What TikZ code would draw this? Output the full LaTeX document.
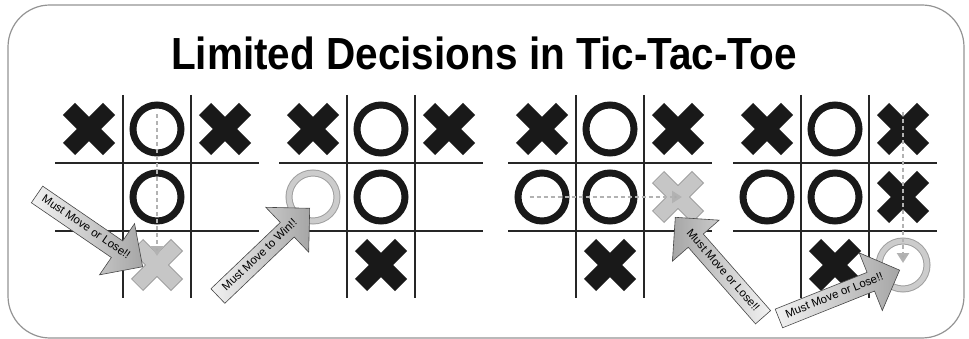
\documentclass[tikz,border=0pt]{standalone}
\usepackage{fontspec}
\setmainfont{Liberation Sans}
\usetikzlibrary{arrows.meta, shapes.arrows}

% two arms of a cross, drawn inside a node's path picture
\newcommand\crossarms[1]{%
  \draw[#1] ([shift={(-20pt,-20pt)}]path picture bounding box.center)
         -- ([shift={(20pt,20pt)}]path picture bounding box.center);
  \draw[#1] ([shift={(-20pt,20pt)}]path picture bounding box.center)
         -- ([shift={(20pt,-20pt)}]path picture bounding box.center);}

\begin{document}
\begin{tikzpicture}[
  x=1pt, y=-1pt,
  every node/.style={font=\small},
  frame/.style={draw=gray!85, line width=1.2pt, rounded corners=42pt},
  gridline/.style={line width=1.8pt, draw=black!85},
  xmark/.style={minimum size=56pt, inner sep=0pt,
                path picture={\crossarms{line width=17pt, draw=black!90}}},
  xghost/.style={minimum size=56pt, inner sep=0pt,
                 path picture={\crossarms{line width=17pt, draw=gray!75}
                               \crossarms{line width=15pt, draw=gray!45, shorten <=1pt, shorten >=1pt}}},
  omark/.style={circle, draw=black!90, line width=7pt, minimum size=48pt, inner sep=0pt},
  oghost/.style={circle, draw=gray!75, line width=1pt, double=gray!40, double distance=5pt,
                 minimum size=48pt, inner sep=0pt},
  movedash/.style={draw=gray!60, line width=2.8pt, dash pattern=on 4pt off 3pt,
                   -{Triangle[width=12pt, length=10pt, fill=gray!65]}},
  warnarrow/.style={single arrow, draw=gray!55!black, line width=0.6pt,
                    single arrow head extend=21pt, single arrow tip angle=90,
                    minimum height=#1, inner xsep=2pt, inner ysep=4.5pt,
                    text height=8pt, text depth=2.5pt,
                    font=\fontsize{11.5}{13}\selectfont, text=black},
  title/.style={font=\fontsize{45}{50}\selectfont\bfseries, xscale=0.9, anchor=base}
]
\useasboundingbox (0,0) rectangle (969,339);

%% Frame and title
\draw[frame] (8,5) rectangle (964,338);
\node[title] (title) at (484,70) {Limited Decisions in Tic-Tac-Toe};

%% Grids
\foreach \bx in {55,279,508,733} {
  \draw[gridline] (\bx+68,95) -- (\bx+68,298);
  \draw[gridline] (\bx+136,95) -- (\bx+136,298);
  \draw[gridline] (\bx,163) -- (\bx+204,163);
  \draw[gridline] (\bx,231) -- (\bx+204,231);
}

%% Board 1
\node[xmark]  (b1r1c1) at (89,129) {};
\node[omark]  (b1r1c2) at (157,129) {};
\node[xmark]  (b1r1c3) at (225,129) {};
\node[omark]  (b1r2c2) at (157,197) {};
\node[xghost] (b1r3c2) at (157,265) {};

%% Board 2
\node[xmark]  (b2r1c1) at (313,129) {};
\node[omark]  (b2r1c2) at (381,129) {};
\node[xmark]  (b2r1c3) at (449,129) {};
\node[oghost] (b2r2c1) at (313,197) {};
\node[omark]  (b2r2c2) at (381,197) {};
\node[xmark]  (b2r3c2) at (381,265) {};

%% Board 3
\node[xmark]  (b3r1c1) at (542,129) {};
\node[omark]  (b3r1c2) at (610,129) {};
\node[xmark]  (b3r1c3) at (678,129) {};
\node[omark]  (b3r2c1) at (542,197) {};
\node[omark]  (b3r2c2) at (610,197) {};
\node[xghost] (b3r2c3) at (678,197) {};
\node[xmark]  (b3r3c2) at (610,265) {};

%% Board 4
\node[xmark]  (b4r1c1) at (767,129) {};
\node[omark]  (b4r1c2) at (835,129) {};
\node[xmark]  (b4r1c3) at (903,129) {};
\node[omark]  (b4r2c1) at (767,197) {};
\node[omark]  (b4r2c2) at (835,197) {};
\node[xmark]  (b4r2c3) at (903,197) {};
\node[xmark]  (b4r3c2) at (835,265) {};
\node[oghost] (b4r3c3) at (903,265) {};

%% Lines of three
\draw[movedash, shorten <=13pt, shorten >=9pt] (b1r1c2.north) -- (b1r3c2.center);
\draw[movedash, shorten <=15pt, shorten >=-4pt] (b3r2c1.west) -- (b3r2c3.center);
\draw[movedash, shorten <=11pt, shorten >=2pt] (b4r1c3.north) -- (b4r3c3.center);

%% Warning arrows
\node[warnarrow=128pt, rotate=-34.4, anchor=tip, left color=gray!10, right color=gray!70]
  (warn1) at (143,267) {Must Move or Lose!!};
\node[warnarrow=127pt, rotate=43.7, anchor=tip, left color=gray!10, right color=gray!70]
  (warn2) at (310,208) {Must Move to Win!!};
\node[warnarrow=133pt, rotate=-48.7, shape border rotate=180, anchor=tip,
      left color=gray!70, right color=gray!10]
  (warn3) at (675,217) {Must Move or Lose!!};
\node[warnarrow=130pt, rotate=21.8, anchor=tip, left color=gray!10, right color=gray!70]
  (warn4) at (900,270) {Must Move or Lose!!};

\end{tikzpicture}
\end{document}
